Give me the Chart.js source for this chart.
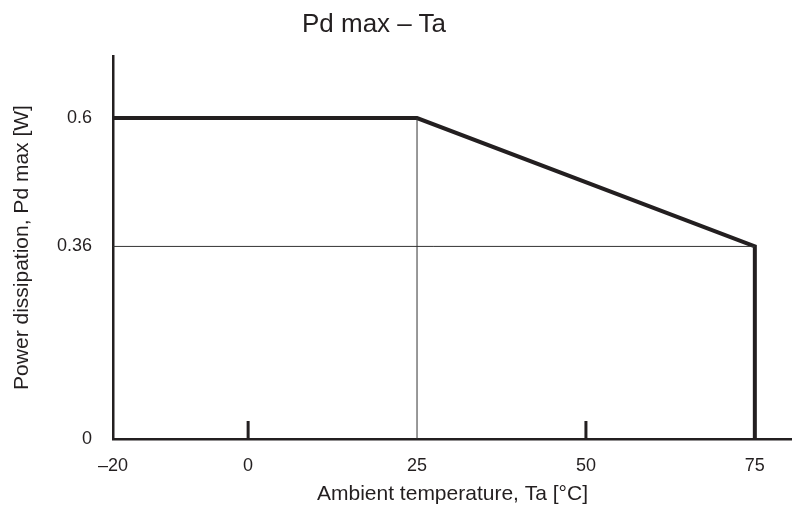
<!DOCTYPE html>
<html>
<head>
<meta charset="utf-8">
<script src="https://cdn.jsdelivr.net/npm/chart.js@4"></script>
<style>
  html, body { margin: 0; padding: 0; background: #fff; }
  #wrap { position: relative; width: 792px; height: 511px; }
  #title {
    position: absolute; left: 0; top: 10px; width: 748px;
    text-align: center; font: 26px "Liberation Sans", Arial, sans-serif;
    line-height: 1; color: #231f20;
  }
</style>
</head>
<body>
<div id="wrap">
  <div id="title">Pd max – Ta</div>
  <canvas id="derating" width="792" height="511"></canvas>
</div>
<script>
  // derating curve (Ta in °C, Pd in W)
  const tempPoints = [-20, 25, 75, 75];
  const powerPoints = [0.6, 0.6, 0.36, 0];

  // thin guide lines
  const guideTempH = [-20, 75];
  const guidePowerH = [0.36, 0.36];
  const guideTempV = [25, 25];
  const guidePowerV = [0, 0.6];

  const xTicks = [-20, 0, 25, 50, 75];
  const xTickLabels = ['–20', '0', '25', '50', '75'];
  const yTicks = [0, 0.36, 0.6];
  const yTickLabels = ['0', '0.36', '0.6'];
  const innerTickTemps = [0, 50];

  const ink = '#231f20';
  const font = '"Liberation Sans", Arial, sans-serif';

  function toXY(xs, ys) {
    return xs.map(function (x, i) { return { x: x, y: ys[i] }; });
  }

  // small tick marks pointing into the plot
  const innerTicks = {
    id: 'innerTicks',
    afterDatasetsDraw: function (chart) {
      const ctx = chart.ctx;
      const xs = chart.scales.x;
      const base = chart.scales.y.getPixelForValue(0);
      ctx.save();
      ctx.strokeStyle = ink;
      ctx.lineWidth = 3;
      innerTickTemps.forEach(function (t) {
        const px = xs.getPixelForValue(t);
        ctx.beginPath();
        ctx.moveTo(px, base);
        ctx.lineTo(px, base - 18);
        ctx.stroke();
      });
      ctx.restore();
    }
  };

  new Chart(document.getElementById('derating'), {
    type: 'line',
    data: {
      datasets: [
        { data: toXY(guideTempH, guidePowerH), borderColor: '#333', borderWidth: 1 },
        { data: toXY(guideTempV, guidePowerV), borderColor: '#333', borderWidth: 1 },
        { data: toXY(tempPoints, powerPoints), borderColor: ink, borderWidth: 4 }
      ]
    },
    options: {
      responsive: false,
      animation: false,
      events: [],
      layout: { padding: { top: 56, right: 0, left: 0, bottom: 0 } },
      elements: { point: { radius: 0 }, line: { tension: 0, fill: false } },
      plugins: { legend: { display: false }, tooltip: { enabled: false }, title: { display: false } },
      scales: {
        x: {
          type: 'linear',
          min: -20,
          max: 80.5,
          afterFit: function (s) { s.height = 72; },
          afterBuildTicks: function (s) { s.ticks = xTicks.map(function (v) { return { value: v }; }); },
          grid: { display: false, drawTicks: false },
          border: { display: true, color: ink, width: 2.5 },
          ticks: {
            padding: 16,
            maxRotation: 0,
            color: ink,
            font: { family: font, size: 18 },
            callback: function (v) { return xTickLabels[xTicks.indexOf(v)]; }
          },
          title: {
            display: true,
            text: 'Ambient temperature, Ta [°C]',
            color: ink,
            font: { family: font, size: 21 },
            padding: { top: 0, bottom: 4 }
          }
        },
        y: {
          type: 'linear',
          min: 0,
          max: 0.716,
          afterFit: function (s) { s.width = 113; },
          afterBuildTicks: function (s) { s.ticks = yTicks.map(function (v) { return { value: v }; }); },
          grid: { display: false, drawTicks: false },
          border: { display: true, color: ink, width: 2.5 },
          ticks: {
            padding: 21,
            color: ink,
            font: { family: font, size: 18 },
            callback: function (v) { return yTickLabels[yTicks.indexOf(v)]; }
          },
          title: {
            display: true,
            text: 'Power dissipation, Pd max [W]',
            color: ink,
            font: { family: font, size: 21 },
            padding: { top: 10, bottom: 0 }
          }
        }
      }
    },
    plugins: [innerTicks]
  });
</script>
</body>
</html>
